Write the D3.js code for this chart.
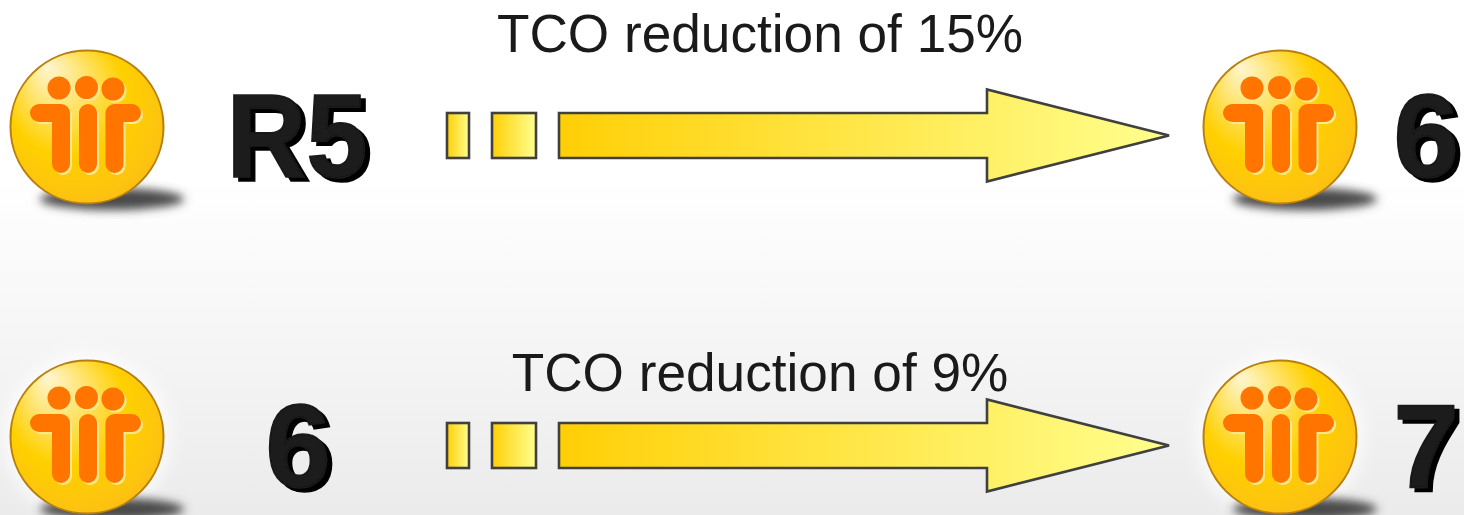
<!DOCTYPE html>
<html>

<head>
    <title>TCO reduction</title>
    <meta charset="utf-8">
    <style>
        html, body {
            margin: 0;
            padding: 0;
            overflow: hidden;
        }

        svg {
            display: block;
        }

        .caption {
            font-family: "Liberation Sans", sans-serif;
            font-size: 53.2px;
            fill: #1a1a1a;
            text-anchor: middle;
        }

        .version {
            font-family: "Liberation Sans", sans-serif;
            font-weight: bold;
            font-size: 118px;
            text-anchor: middle;
            fill: #1a1a1a;
            stroke: #1a1a1a;
            stroke-width: 1.5px;
        }
    </style>
</head>

<body>
    <svg width="1464" height="515"></svg>
    <script src="https://d3js.org/d3.v7.min.js"></script>
    <script>
        // The data
        var fromVersions = ["R5", "6"];
        var toVersions = ["6", "7"];
        var reductions = [15, 9];

        var svg = d3.select("svg"),
            width = 1464,
            height = 515;

        // One row per upgrade step
        var rows = d3.range(reductions.length);
        var rowY = d3.scalePoint().domain(rows).range([135.5, 445.5]);

        var defs = svg.append("defs");

        function linearGradient(id, stops, x2, y2) {
            var g = defs.append("linearGradient").attr("id", id)
                .attr("x1", 0).attr("y1", 0).attr("x2", x2).attr("y2", y2);
            stops.forEach(function (s) {
                g.append("stop").attr("offset", s[0]).attr("stop-color", s[1]);
            });
        }

        linearGradient("bg", [[0, "#ffffff"], [0.35, "#ffffff"], [1, "#ebebeb"]], 0, 1);
        linearGradient("arrowFill", [[0, "#ffcf05"], [1, "#ffff8f"]], 1, 0);

        var badgeFill = defs.append("radialGradient").attr("id", "badgeFill")
            .attr("cx", 0.5).attr("cy", 0.5).attr("r", 0.78)
            .attr("fx", 0.24).attr("fy", 0.1);
        [[0, "#fff6d2"], [0.5, "#ffd000"], [0.72, "#fdc40f"], [1, "#f9ac20"]].forEach(function (s) {
            badgeFill.append("stop").attr("offset", s[0]).attr("stop-color", s[1]);
        });

        defs.append("filter").attr("id", "blur")
            .attr("x", "-30%").attr("y", "-100%").attr("width", "160%").attr("height", "300%")
            .append("feGaussianBlur").attr("stdDeviation", 5);
        defs.append("filter").attr("id", "glow")
            .attr("x", "-30%").attr("y", "-30%").attr("width", "160%").attr("height", "160%")
            .append("feGaussianBlur").attr("stdDeviation", 8);
        // hard black shadow behind the version labels
        defs.append("filter").attr("id", "hardShadow")
            .attr("x", "-20%").attr("y", "-20%").attr("width", "140%").attr("height", "140%")
            .append("feDropShadow")
            .attr("dx", 5).attr("dy", 4).attr("stdDeviation", 0)
            .attr("flood-color", "#000");

        svg.append("rect")
            .attr("width", width)
            .attr("height", height)
            .attr("fill", "url(#bg)");

        // The people logo, drawn around the centre of the circle
        var personLine = d3.line();
        var persons = [
            [[-48, -14], [-26, -14], [-26, 37]],
            [[1, -14], [1, 37]],
            [[45, -14], [27.5, -14], [27.5, 37]]
        ];
        var heads = [[-28, -39], [-0.5, -39.5], [26, -38]];

        function drawBadge(sel, cx, cy) {
            var g = sel.append("g").attr("transform", "translate(" + cx + "," + cy + ")");
            g.append("circle")
                .attr("r", 84)
                .attr("fill", "#fff")
                .attr("opacity", 0.7)
                .attr("filter", "url(#glow)");
            g.append("ellipse")
                .attr("cx", 25)
                .attr("cy", 72)
                .attr("rx", 72)
                .attr("ry", 11)
                .attr("fill", "#4a4a4a")
                .attr("filter", "url(#blur)");
            g.append("circle")
                .attr("r", 76.5)
                .attr("fill", "url(#badgeFill)")
                .attr("stroke", "#b77f0f")
                .attr("stroke-width", 2);

            // pale edge first, then the orange on top
            [[2, 2, "#ffe98c"], [0, 0, "#ff7500"]].forEach(function (layer) {
                var part = g.append("g")
                    .attr("transform", "translate(" + layer[0] + "," + layer[1] + ")");
                part.selectAll("path").data(persons).enter().append("path")
                    .attr("d", personLine)
                    .attr("fill", "none")
                    .attr("stroke", layer[2])
                    .attr("stroke-width", 18)
                    .attr("stroke-linecap", "round")
                    .attr("stroke-linejoin", "round");
                part.selectAll("circle").data(heads).enter().append("circle")
                    .attr("cx", function (d) { return d[0]; })
                    .attr("cy", function (d) { return d[1]; })
                    .attr("r", 11.5)
                    .attr("fill", layer[2]);
            });
        }

        function drawVersion(sel, label, x, y) {
            var t = sel.append("text").attr("class", "version")
                .attr("x", x)
                .attr("y", y)
                .attr("filter", "url(#hardShadow)")
                .text(label);
            // the two letter label is squeezed in the original
            if (label.length > 1) {
                t.attr("x", x - 1).attr("textLength", 141).attr("lengthAdjust", "spacingAndGlyphs");
            }
        }

        function drawArrow(sel, y) {
            var half = 22.5;
            [[447, 469], [492, 536]].forEach(function (b) {
                sel.append("rect")
                    .attr("x", b[0])
                    .attr("y", y - half)
                    .attr("width", b[1] - b[0])
                    .attr("height", half * 2)
                    .attr("fill", "url(#arrowFill)")
                    .attr("stroke", "#404040")
                    .attr("stroke-width", 2.6);
            });
            var outline = [
                [559, y - half], [987, y - half], [987, y - 46], [1169, y],
                [987, y + 46], [987, y + half], [559, y + half]
            ];
            sel.append("path")
                .attr("d", d3.line()(outline) + "Z")
                .attr("fill", "url(#arrowFill)")
                .attr("stroke", "#404040")
                .attr("stroke-width", 2.6);
        }

        var captionY = [52, 391];

        rows.forEach(function (i) {
            var y = rowY(i);
            var g = svg.append("g");
            drawBadge(g, 87, y - 8.5);
            drawBadge(g, 1280, y - 8.5);
            drawArrow(g, y);
            drawVersion(g, fromVersions[i], 298, y + 41);
            drawVersion(g, toVersions[i], 1426, y + 41);
            g.append("text").attr("class", "caption")
                .attr("x", 760)
                .attr("y", captionY[i])
                .text("TCO reduction of " + reductions[i] + "%");
        });
    </script>
</body>

</html>
